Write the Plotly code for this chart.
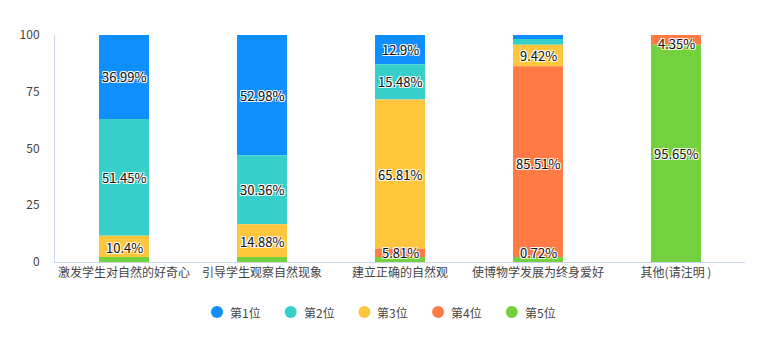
import numpy as np
import plotly.graph_objects as go

# ---- data -------------------------------------------------------------
categories = ["激发学生对自然的好奇心", "引导学生观察自然现象", "建立正确的自然观",
              "使博物学发展为终身爱好", "其他(请注明 )"]
rank_names = ["第1位", "第2位", "第3位", "第4位", "第5位"]
rank1 = [36.99, 52.98, 12.90, 1.81, 0.0]
rank2 = [51.45, 30.36, 15.48, 2.54, 0.0]
rank3 = [10.40, 14.88, 65.81, 9.42, 0.0]
rank4 = [0.0, 0.0, 5.81, 85.51, 4.35]
rank5 = [1.16, 1.78, 0.0, 0.72, 95.65]
y_ticks = [0, 25, 50, 75, 100]

colors = ["#0F8FFF", "#36CFC9", "#FFC53D", "#FF7A45", "#73D13D"]
FONT = "Noto Sans CJK SC, Microsoft YaHei, sans-serif"
TEXT_COLOR = "#444444"

# ---- geometry ---------------------------------------------------------
W, H = 766, 340
M_L, M_R, M_T, M_B = 55, 21, 35, 78
plot_w = W - M_L - M_R
plot_h = H - M_T - M_B
px_unit = 100.0 / plot_h            # data units per pixel
MIN_BAR = 5 * px_unit               # minimum drawn height for the bottom series
LABEL_H = 14 * px_unit              # label box height in data units
LO, HI = 10 * px_unit, 100 - 8 * px_unit


def paper_x(px):
    return (px - M_L) / plot_w


def paper_y(py):
    return (H - M_B - py) / plot_h


series = [rank1, rank2, rank3, rank4, rank5]
vals = np.array(series, dtype=float)            # shape (5 ranks, 5 cats)
# stacking order bottom-up: rank5, rank4, rank3, rank2, rank1
order = [4, 3, 2, 1, 0]
bases = np.zeros_like(vals)
acc = np.zeros(vals.shape[1])
for i in order:
    bases[i] = acc
    acc = acc + vals[i]

fig = go.Figure()

# draw upper ranks first, bottom rank last (it gets a minimum height and sits on top)
for i in [0, 1, 2, 3, 4]:
    h = vals[i].copy()
    if i == 4:
        h = np.maximum(h, MIN_BAR)
    fig.add_trace(go.Bar(
        x=categories, y=h, base=bases[i], name=rank_names[i],
        marker=dict(color=colors[i], line=dict(width=0)),
        showlegend=False, hoverinfo="skip", width=0.362,
    ))

# value labels: largest first, overlapping ones are dropped
annotations = []
for c in range(len(categories)):
    placed = []
    idx = sorted(range(5), key=lambda i: -vals[i, c])
    for i in idx:
        v = vals[i, c]
        if v <= 0:
            continue
        yc = bases[i, c] + v / 2
        yc = min(max(yc, LO), HI)
        if any(abs(yc - p) < LABEL_H for p in placed):
            continue
        placed.append(yc)
        annotations.append(dict(
            x=categories[c], y=yc, xref="x", yref="y",
            text=f"{v:g}%", showarrow=False,
            font=dict(family=FONT, size=13, color="#111111",
                      shadow="1px 1px 0 #fff, -1px -1px 0 #fff, 1px -1px 0 #fff, -1px 1px 0 #fff"),
        ))

# legend row: round markers with their series names
shapes = []
LEG_X0, LEG_STEP, LEG_Y, LEG_R = 217, 73.7, 312, 6
for i, name in enumerate(rank_names):
    cx = LEG_X0 + i * LEG_STEP
    shapes.append(dict(
        type="circle", xref="paper", yref="paper",
        x0=paper_x(cx - LEG_R), x1=paper_x(cx + LEG_R),
        y0=paper_y(LEG_Y + LEG_R), y1=paper_y(LEG_Y - LEG_R),
        fillcolor=colors[i], line=dict(width=0),
    ))
    annotations.append(dict(
        x=paper_x(cx + 11), y=paper_y(LEG_Y), xref="paper", yref="paper",
        xanchor="left", yanchor="middle", text=name, showarrow=False,
        font=dict(family=FONT, size=12, color=TEXT_COLOR),
    ))

fig.update_layout(
    width=W, height=H,
    margin=dict(l=M_L, r=M_R, t=M_T, b=M_B),
    barmode="overlay",
    showlegend=False,
    plot_bgcolor="white", paper_bgcolor="white",
    font=dict(family=FONT, size=12, color=TEXT_COLOR),
    annotations=annotations,
    shapes=shapes,
    xaxis=dict(
        type="category", showline=True, linecolor="#CCD6EB", linewidth=1,
        ticks="", showgrid=False, zeroline=False,
        tickfont=dict(family=FONT, size=12, color=TEXT_COLOR),
        fixedrange=True,
    ),
    yaxis=dict(
        range=[0, 100], tickvals=y_ticks, showline=True, linecolor="#CCD6EB",
        linewidth=1, ticks="", showgrid=False, zeroline=False,
        ticklabelstandoff=12,
        tickfont=dict(family=FONT, size=12, color=TEXT_COLOR),
        fixedrange=True,
    ),
)

fig.write_html("out.html")
